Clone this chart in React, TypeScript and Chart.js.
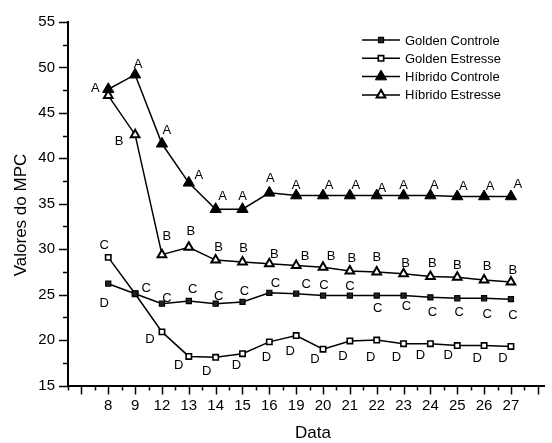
import { useEffect, useRef } from 'react';
import { Chart, registerables } from 'chart.js';

Chart.register(...registerables);

// Sampling dates (evenly spaced categories on the x axis)
const dates = ['8', '9', '12', '13', '14', '15', '16', '19', '20', '21', '22', '23', '24', '25', '26', '27'];

// MPC readings per treatment
const goldenControle = [26.2, 25.1, 24.0, 24.3, 24.0, 24.2, 25.2, 25.1, 24.9, 24.9, 24.9, 24.9, 24.7, 24.6, 24.6, 24.5];
const goldenEstresse = [29.1, 25.1, 20.9, 18.2, 18.1, 18.5, 19.8, 20.5, 19.0, 19.9, 20.0, 19.6, 19.6, 19.4, 19.4, 19.3];
const hibridoControle = [47.6, 49.2, 41.6, 37.3, 34.4, 34.4, 36.2, 35.9, 35.9, 35.9, 35.9, 35.9, 35.9, 35.8, 35.8, 35.8];
const hibridoEstresse = [46.9, 42.6, 29.4, 30.2, 28.8, 28.6, 28.4, 28.2, 28.0, 27.6, 27.5, 27.3, 27.0, 26.9, 26.6, 26.4];

// Statistical grouping letters per point
const goldenControleLetters = ['D', 'C', 'C', 'C', 'C', 'C', 'C', 'C', 'C', 'C', 'C', 'C', 'C', 'C', 'C', 'C'];
const goldenEstresseLetters = ['C', '', 'D', 'D', 'D', 'D', 'D', 'D', 'D', 'D', 'D', 'D', 'D', 'D', 'D', 'D'];
const hibridoControleLetters = ['A', 'A', 'A', 'A', 'A', 'A', 'A', 'A', 'A', 'A', 'A', 'A', 'A', 'A', 'A', 'A'];
const hibridoEstresseLetters = ['', 'B', 'B', 'B', 'B', 'B', 'B', 'B', 'B', 'B', 'B', 'B', 'B', 'B', 'B', 'B'];

// Y axis ticks
const yMin = 15;
const yMax = 55;
const yStep = 5;

const FONT = '"Liberation Sans", Arial, Helvetica, sans-serif';

// Where each letter sits relative to its point (dx, dy in px)
const letterPlacement: Record<string, [number, number][]> = {
  gc: [[-4, 20], [11, -5], [5, -5], [4, -12], [3, -7], [2, -10], [6, -9], [10, -9], [1, -10], [0, -9], [1, 13], [3, 11], [2, 15], [2, 14], [3, 16], [2, 16]],
  ge: [[-4, -12], [0, 0], [-12, 8], [-10, 9], [-9, 14], [-6, 12], [-3, 16], [-6, 16], [-8, 10], [-7, 15], [-6, 17], [-7, 14], [-10, 12], [-9, 10], [-7, 13], [-8, 12]],
  hc: [[-13, -1], [3, -10], [5, -13], [10, -7], [7, -13], [0, -13], [1, -14], [0, -10], [6, -10], [6, -10], [5, -7], [0, -10], [4, -10], [6, -10], [6, -10], [7, -12]],
  he: [[0, 0], [-16, 7], [5, -18], [2, -16], [3, -13], [1, -13], [5, -9], [9, -9], [8, -11], [2, -13], [0, -14], [2, -10], [2, -13], [0, -12], [3, -14], [2, -11]],
};

type SeriesDef = {
  key: string;
  label: string;
  values: number[];
  letters: string[];
  pointStyle: 'rect' | 'triangle';
  radius: number;
  fill: string;
  borderWidth: number;
};

const series: SeriesDef[] = [
  { key: 'gc', label: 'Golden Controle', values: goldenControle, letters: goldenControleLetters, pointStyle: 'rect', radius: 3.6, fill: '#222222', borderWidth: 1.2 },
  { key: 'ge', label: 'Golden Estresse', values: goldenEstresse, letters: goldenEstresseLetters, pointStyle: 'rect', radius: 3.8, fill: '#ffffff', borderWidth: 1.6 },
  { key: 'hc', label: 'Híbrido Controle', values: hibridoControle, letters: hibridoControleLetters, pointStyle: 'triangle', radius: 6.5, fill: '#000000', borderWidth: 1 },
  { key: 'he', label: 'Híbrido Estresse', values: hibridoEstresse, letters: hibridoEstresseLetters, pointStyle: 'triangle', radius: 5, fill: '#ffffff', borderWidth: 2 },
];

function drawMarker(ctx: CanvasRenderingContext2D, s: SeriesDef, x: number, y: number) {
  ctx.save();
  ctx.beginPath();
  if (s.pointStyle === 'rect') {
    const h = s.radius * Math.SQRT1_2;
    ctx.rect(x - h, y - h, 2 * h, 2 * h);
  } else {
    const r = s.radius;
    ctx.moveTo(x, y - r);
    ctx.lineTo(x + r * Math.sin((2 * Math.PI) / 3), y + r / 2);
    ctx.lineTo(x - r * Math.sin((2 * Math.PI) / 3), y + r / 2);
    ctx.closePath();
  }
  ctx.fillStyle = s.fill;
  ctx.fill();
  ctx.lineWidth = s.borderWidth;
  ctx.strokeStyle = '#000';
  ctx.stroke();
  ctx.restore();
}

const decorations = {
  id: 'decorations',
  afterDraw(chart: any) {
    const { ctx, scales, chartArea } = chart;
    const xs = scales.x;
    const ys = scales.y;
    ctx.save();
    ctx.strokeStyle = '#000';
    ctx.lineWidth = 1.5;

    // Y ticks, major every 5 and minor in between, pointing outwards
    for (let v = yMin; v <= yMax + 1e-9; v += yStep / 2) {
      const major = Math.abs((v - yMin) % yStep) < 1e-6;
      const py = Math.round(ys.getPixelForValue(v)) + 0.5;
      ctx.beginPath();
      ctx.moveTo(chartArea.left, py);
      ctx.lineTo(chartArea.left - (major ? 9 : 5), py);
      ctx.stroke();
    }

    // X ticks on every category and half step
    for (let i = -3; i <= 2 * dates.length + 1; i++) {
      const v = i / 2;
      if (v < xs.min - 1e-6 || v > xs.max + 1e-6) continue;
      const major = i % 2 === 0;
      const px = Math.round(xs.getPixelForValue(v)) + 0.5;
      ctx.beginPath();
      ctx.moveTo(px, chartArea.bottom);
      ctx.lineTo(px, chartArea.bottom + (major ? 9 : 5));
      ctx.stroke();
    }

    // Group letters
    ctx.fillStyle = '#000';
    ctx.font = `13px ${FONT}`;
    ctx.textAlign = 'center';
    ctx.textBaseline = 'middle';
    series.forEach((s, di) => {
      const meta = chart.getDatasetMeta(di);
      s.letters.forEach((letter, j) => {
        if (!letter) return;
        const pt = meta.data[j];
        const [dx, dy] = letterPlacement[s.key][j];
        ctx.fillText(letter, pt.x + dx, pt.y + dy);
      });
    });

    // Axis titles
    ctx.font = `17px ${FONT}`;
    ctx.fillText('Data', 313, 433);
    ctx.save();
    ctx.translate(21, 215);
    ctx.rotate(-Math.PI / 2);
    ctx.fillText('Valores do MPC', 0, 0);
    ctx.restore();

    // Legend: line sample with marker, then the name
    ctx.font = `13px ${FONT}`;
    ctx.textAlign = 'left';
    series.forEach((s, i) => {
      const ly = 40 + i * 18.3;
      ctx.beginPath();
      ctx.lineWidth = 1.5;
      ctx.moveTo(362, ly);
      ctx.lineTo(400, ly);
      ctx.stroke();
      drawMarker(ctx, s, 381, ly);
      ctx.fillText(s.label, 405, ly + 1);
    });

    ctx.restore();
  },
};

export default function App() {
  const canvasRef = useRef<HTMLCanvasElement | null>(null);

  useEffect(() => {
    if (!canvasRef.current) return;
    const chart = new Chart(canvasRef.current, {
      type: 'line',
      data: {
        datasets: series.map((s) => ({
          label: s.label,
          data: s.values.map((v, i) => ({ x: i, y: v })),
          borderColor: '#000',
          borderWidth: 1.5,
          pointStyle: s.pointStyle,
          pointRadius: s.radius,
          pointBackgroundColor: s.fill,
          pointBorderColor: '#000',
          pointBorderWidth: s.borderWidth,
          tension: 0,
          fill: false,
        })),
      },
      options: {
        responsive: false,
        animation: false,
        devicePixelRatio: 1,
        layout: { padding: { top: 15, right: 0, left: 0, bottom: 0 } },
        plugins: {
          legend: { display: false },
          tooltip: { enabled: false },
        },
        scales: {
          x: {
            type: 'linear',
            min: -1.5,
            max: 16.25,
            afterFit: (scale: any) => {
              scale.height = 57.5;
            },
            afterBuildTicks: (scale: any) => {
              scale.ticks = dates.map((_, i) => ({ value: i }));
            },
            grid: { display: false, drawTicks: false },
            border: { display: true, color: '#000', width: 2 },
            ticks: {
              autoSkip: false,
              maxRotation: 0,
              padding: 11,
              color: '#000',
              font: { family: FONT, size: 15 },
              callback: (value: any) => dates[Number(value)] ?? '',
            },
          },
          y: {
            min: yMin,
            max: yMax,
            afterFit: (scale: any) => {
              scale.width = 68;
            },
            grid: { display: false, drawTicks: false },
            border: { display: true, color: '#000', width: 2 },
            ticks: {
              stepSize: yStep,
              padding: 13,
              color: '#000',
              font: { family: FONT, size: 15 },
            },
          },
        },
      },
      plugins: [decorations],
    });
    return () => chart.destroy();
  }, []);

  return (
    <canvas
      ref={canvasRef}
      width={552}
      height={443}
      style={{ position: 'absolute', left: 0, top: 0, width: 552, height: 443 }}
    />
  );
}
